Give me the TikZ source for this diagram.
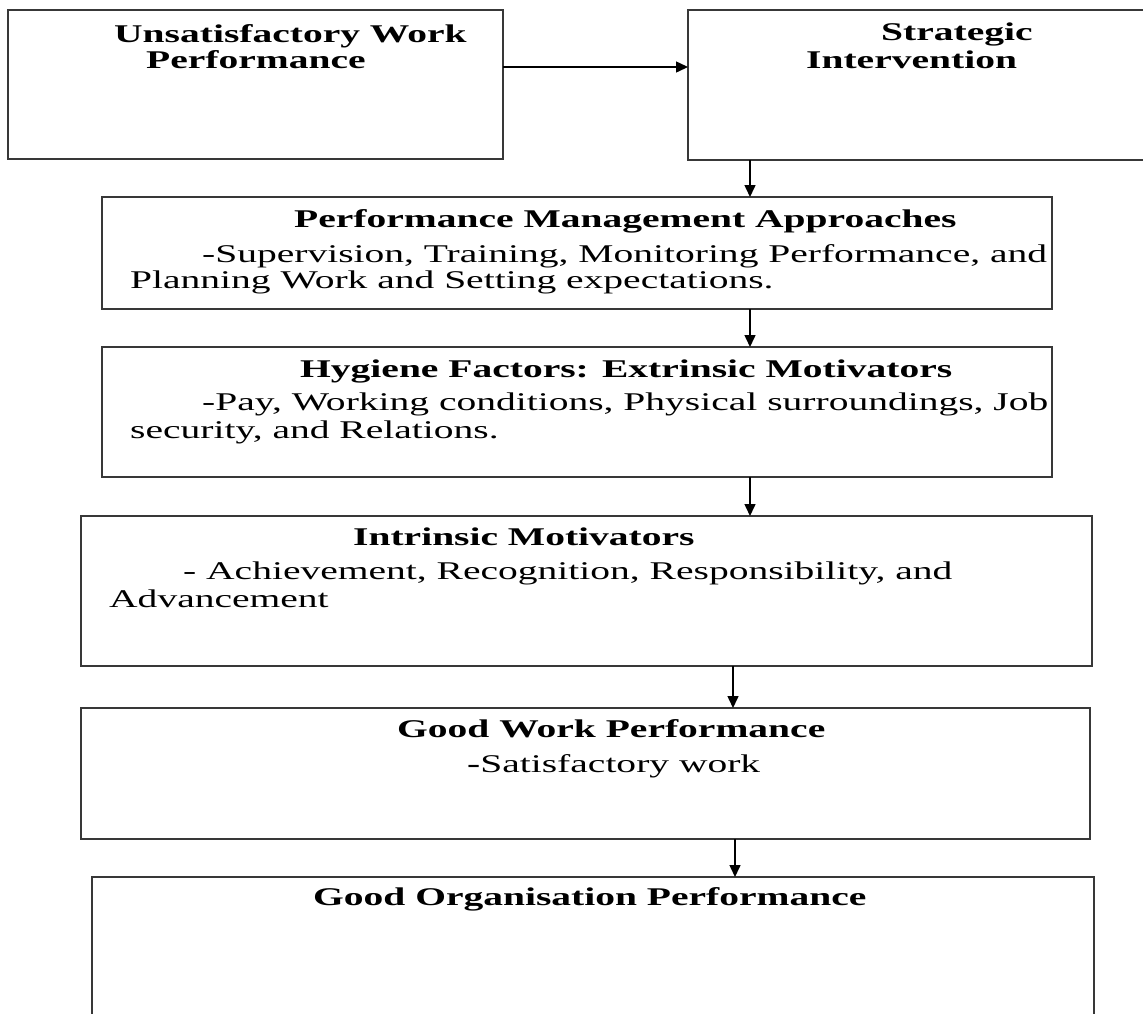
\documentclass[tikz,border=0pt]{standalone}
\usepackage{fontspec}
\setmainfont{Liberation Serif}[FakeStretch=1.55]
\usetikzlibrary{arrows.meta}
\begin{document}
\begin{tikzpicture}[x=1pt,y=-1pt,
  box/.style={draw=black!78, line width=2pt, fill=white},
  arr/.style={draw=black, line width=1.5pt, -{Triangle[length=12pt,width=11pt]}},
  tx/.style={anchor=base west, inner sep=0pt, text=black, font=\fontsize{25.5}{28}\selectfont},
  tb/.style={tx, font=\fontsize{25.5}{28}\selectfont\bfseries}]
\useasboundingbox (0,0) rectangle (1143,1013);
\fill[white] (0,0) rectangle (1143,1013);
% boxes
\draw[box] (8,10) rectangle (503,159);
\draw[box] (688,10) rectangle (1160,160);
\draw[box] (102,197) rectangle (1052,309);
\draw[box] (102,347) rectangle (1052,477);
\draw[box] (81,516) rectangle (1092,666);
\draw[box] (81,708) rectangle (1090,839);
\draw[box] (92,877) rectangle (1094,1030);
% anchor coordinates for connectors
\coordinate (b1e) at (503,67);
\coordinate (b2w) at (688,67);
\coordinate (b2s) at (750,160);
\coordinate (b3n) at (750,197);
\coordinate (b3s) at (750,309);
\coordinate (b4n) at (750,347);
\coordinate (b4s) at (750,477);
\coordinate (b5n) at (750,516);
\coordinate (b5s) at (733,666);
\coordinate (b6n) at (733,708);
\coordinate (b6s) at (735,839);
\coordinate (b7n) at (735,877);
% texts
\node[tb] (t1a) at (114,42) {Unsatisfactory Work};
\node[tb] (t1b) at (146,68) {Performance};
\node[tb] (t2a) at (881,40) {Strategic};
\node[tb] (t2b) at (806,68) {Intervention};
\node[tb] (t3a) at (294,227) {Performance Management Approaches};
\node[tx] (t3b) at (202,262) {-Supervision, Training, Monitoring Performance, and};
\node[tx] (t3c) at (130,288) {Planning Work and Setting expectations.};
\node[tb] (t4a) at (300,377) {Hygiene Factors: Extrinsic Motivators};
\node[tx] (t4b) at (202,410) {-Pay, Working conditions, Physical surroundings, Job};
\node[tx] (t4c) at (130,438) {security, and Relations.};
\node[tb] (t5a) at (353,545) {Intrinsic Motivators};
\node[tx] (t5b) at (183,579) {- Achievement, Recognition, Responsibility, and};
\node[tx] (t5c) at (109,607) {Advancement};
\node[tb] (t6a) at (397,737) {Good Work Performance};
\node[tx] (t6b) at (467,772) {{\bfseries -}Satisfactory work};
\node[tb] (t7a) at (313,905) {Good Organisation Performance};
% connectors
\draw[arr] (b1e) -- (b2w);
\draw[arr] (b2s) -- (b3n);
\draw[arr] (b3s) -- (b4n);
\draw[arr] (b4s) -- (b5n);
\draw[arr] (b5s) -- (b6n);
\draw[arr] (b6s) -- (b7n);
\end{tikzpicture}
\end{document}
